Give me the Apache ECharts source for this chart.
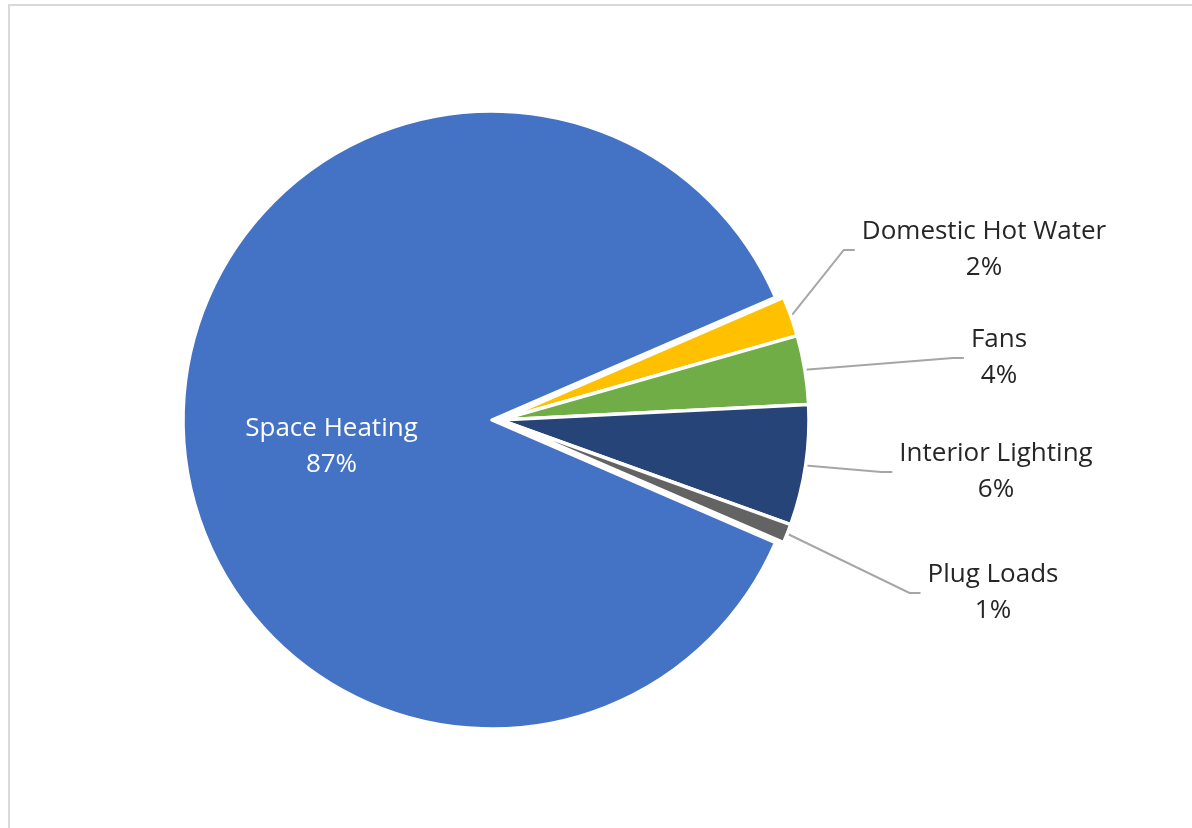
<!DOCTYPE html>
<html>
<head>
<meta charset="utf-8">
<script src="https://cdn.jsdelivr.net/npm/echarts@6/dist/echarts.min.js"></script>
<style>
  html, body { margin: 0; padding: 0; background: #fff; overflow: hidden; }
  #frame { position: absolute; left: 8px; top: 4px; width: 1300px; height: 1000px; border: 2px solid #d9d9d9; box-sizing: border-box; }
  #main { position: absolute; left: 0; top: 0; width: 1192px; height: 828px; }
</style>
</head>
<body>
<div id="frame"></div>
<div id="main"></div>
<script>
// energy end use shares (%)
var categories = ['Space Heating', 'Domestic Hot Water', 'Fans', 'Interior Lighting', 'Plug Loads'];
var shares = [87.0, 2.1, 3.6, 6.3, 1.0];

var sliceColors = ['#4472C4', '#FFC000', '#70AD47', '#264478', '#636363'];
// outside label block centres (index 0 is the inside label, only nudged)
var labelPos = [null, [984, 250], [999, 358], [996, 472], [993, 593]];

var myChart = echarts.init(document.getElementById('main'));

var pieData = categories.map(function (name, i) {
  var item = {
    name: name,
    value: shares[i],
    itemStyle: { color: sliceColors[i] }
  };
  if (i === 0) {
    item.selected = true;
    item.label = { position: 'inside', color: '#ffffff', padding: 0 };
    item.labelLine = { show: false };
  }
  return item;
});

myChart.setOption({
  animation: false,
  series: [{
    type: 'pie',
    center: [500, 420],
    radius: 309,
    startAngle: 336.6,
    clockwise: true,
    selectedMode: 'single',
    selectedOffset: 8,
    avoidLabelOverlap: false,
    itemStyle: { borderColor: '#ffffff', borderWidth: 3.5 },
    label: {
      show: true,
      position: 'outside',
      fontFamily: 'Open Sans',
      fontSize: 26,
      lineHeight: 36,
      color: '#262626',
      padding: [0, 7],
      formatter: function (p) {
        return p.name + '\n' + Math.round(p.percent) + '%';
      }
    },
    labelLine: {
      show: true,
      length: 20,
      length2: 11,
      smooth: false,
      lineStyle: { color: '#a6a6a6', width: 2 }
    },
    labelLayout: function (params) {
      var pos = labelPos[params.dataIndex];
      if (!pos) return { dx: -3, dy: 27 };
      return { x: pos[0], y: pos[1], align: 'center', verticalAlign: 'middle' };
    },
    emphasis: { disabled: true },
    data: pieData
  }]
});
</script>
</body>
</html>
